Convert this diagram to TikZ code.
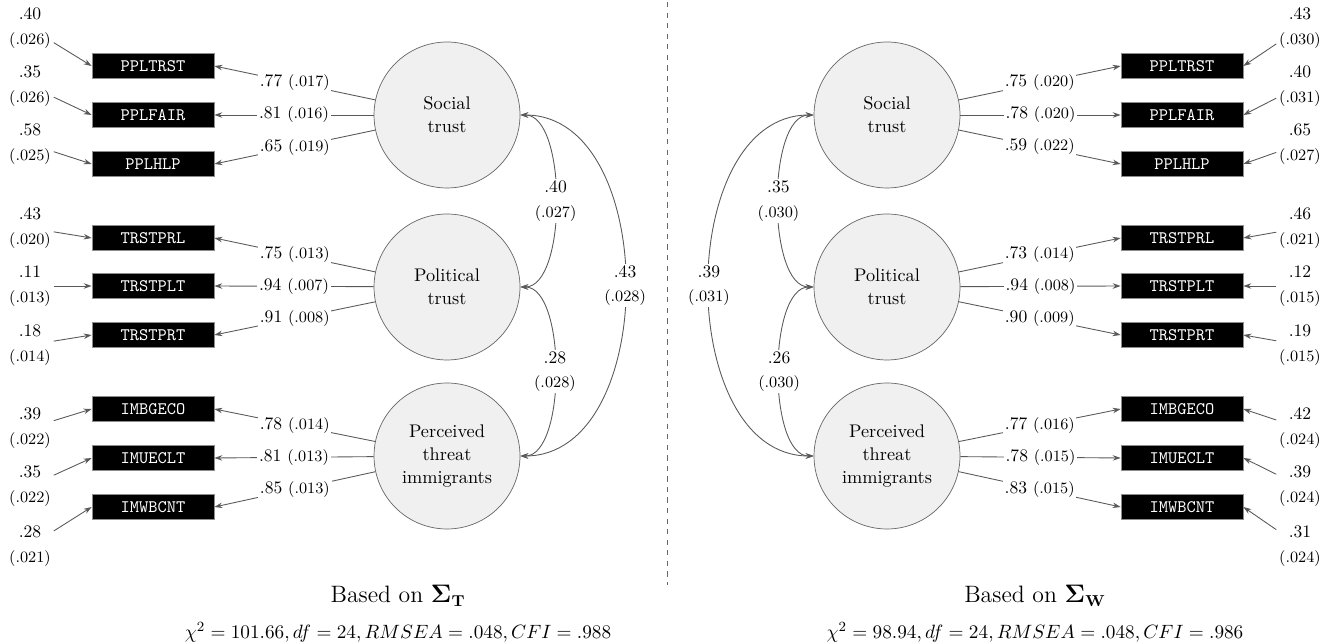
\documentclass[tikz,border=0pt]{standalone}
\usepackage{amsmath}
\usepackage{tikz}
\usetikzlibrary{arrows.meta}

\begin{document}
\begin{tikzpicture}[x=0.02cm, y=-0.02cm,
  latent/.style={circle, draw=black!60, fill=black!6, minimum size=2.92cm, align=center, font=\fontsize{10.4}{13}\selectfont},
  item/.style={rectangle, draw=black!45, fill=black, text=white, minimum width=2.44cm, minimum height=0.5cm, font=\ttfamily},
  errlab/.style={align=center, inner sep=1.5pt},
  err/.style={-{Stealth[length=1.6mm, width=1.1mm]}, draw=black!65, line width=0.5pt},
  load/.style={-{Stealth[length=1.6mm, width=1.1mm]}, draw=black!65, line width=0.5pt},
  loadlab/.style={fill=white, inner sep=1pt},
  cov/.style={{Stealth[length=1.6mm, width=1.1mm]}-{Stealth[length=1.6mm, width=1.1mm]}, draw=black!65, line width=0.5pt},
  covlab/.style={fill=white, inner sep=1pt, align=center},
  caption/.style={font=\fontsize{13.5}{16}\selectfont},
  fit/.style={font=\fontsize{11}{13}\selectfont},
]
  \useasboundingbox (0,0) rectangle (1327,644);

  % ---- left panel: Sigma_T ----
  \node[latent] (socT) at (447,115) {Social\\trust};
  \node[latent] (polT) at (447,287) {Political\\trust};
  \node[latent] (thrT) at (447,456) {Perceived\\threat\\immigrants};

  \node[item] (pplT1) at (153,66) {PPLTRST};
  \node[item] (pplT2) at (153,115) {PPLFAIR};
  \node[item] (pplT3) at (153,164) {PPLHLP};
  \node[item] (trsT1) at (153,238) {TRSTPRL};
  \node[item] (trsT2) at (153,286) {TRSTPLT};
  \node[item] (trsT3) at (153,335) {TRSTPRT};
  \node[item] (imT1) at (153,409) {IMBGECO};
  \node[item] (imT2) at (153,458) {IMUECLT};
  \node[item] (imT3) at (153,507) {IMWBCNT};

  \node[errlab] (epplT1) at (30,28) {.40\\[2pt]{\small(.026)}};
  \node[errlab] (epplT2) at (30,86) {.35\\[2pt]{\small(.026)}};
  \node[errlab] (epplT3) at (30,144) {.58\\[2pt]{\small(.025)}};
  \node[errlab] (etrsT1) at (30,228) {.43\\[2pt]{\small(.020)}};
  \node[errlab] (etrsT2) at (30,286) {.11\\[2pt]{\small(.013)}};
  \node[errlab] (etrsT3) at (30,345) {.18\\[2pt]{\small(.014)}};
  \node[errlab] (eimT1) at (30,428) {.39\\[2pt]{\small(.022)}};
  \node[errlab] (eimT2) at (30,486) {.35\\[2pt]{\small(.022)}};
  \node[errlab] (eimT3) at (30,546) {.28\\[2pt]{\small(.021)}};

  \draw[err] (epplT1) -- (pplT1.west);
  \draw[err] (epplT2) -- (pplT2.west);
  \draw[err] (epplT3) -- (pplT3.west);
  \draw[err] (etrsT1) -- (trsT1.west);
  \draw[err] (etrsT2) -- (trsT2.west);
  \draw[err] (etrsT3) -- (trsT3.west);
  \draw[err] (eimT1) -- (imT1.west);
  \draw[err] (eimT2) -- (imT2.west);
  \draw[err] (eimT3) -- (imT3.west);

  \draw[load] (socT) -- (pplT1.east) node[midway, loadlab] {.77 {\small(.017)}};
  \draw[load] (socT) -- (pplT2.east) node[midway, loadlab] {.81 {\small(.016)}};
  \draw[load] (socT) -- (pplT3.east) node[midway, loadlab] {.65 {\small(.019)}};
  \draw[load] (polT) -- (trsT1.east) node[midway, loadlab] {.75 {\small(.013)}};
  \draw[load] (polT) -- (trsT2.east) node[midway, loadlab] {.94 {\small(.007)}};
  \draw[load] (polT) -- (trsT3.east) node[midway, loadlab] {.91 {\small(.008)}};
  \draw[load] (thrT) -- (imT1.east) node[midway, loadlab] {.78 {\small(.014)}};
  \draw[load] (thrT) -- (imT2.east) node[midway, loadlab] {.81 {\small(.013)}};
  \draw[load] (thrT) -- (imT3.east) node[midway, loadlab] {.85 {\small(.013)}};

  \draw[cov] (socT.east) to[out=0, in=0, looseness=0.7] node[midway, covlab] {.40\\[2pt]{\small(.027)}} (polT.east);
  \draw[cov] (polT.east) to[out=0, in=0, looseness=0.7] node[midway, covlab] {.28\\[2pt]{\small(.028)}} (thrT.east);
  \draw[cov] (socT.east) to[out=0, in=0, looseness=1.05] node[midway, covlab] {.43\\[2pt]{\small(.028)}} (thrT.east);

  \node[caption] (capT) at (398,596) {Based on $\boldsymbol{\Sigma}_{\mathbf{T}}$};
  \node[fit] (fitT) at (398,632) {$\chi^2=101.66, df=24, RMSEA=.048, CFI=.988$};

  % separator
  \draw[dashed, black!60, line width=0.5pt] (667,2) -- (667,585);

  % ---- right panel: Sigma_W ----
  \node[latent] (socW) at (887,115) {Social\\trust};
  \node[latent] (polW) at (887,287) {Political\\trust};
  \node[latent] (thrW) at (887,456) {Perceived\\threat\\immigrants};

  \node[item] (pplW1) at (1182,66) {PPLTRST};
  \node[item] (pplW2) at (1182,115) {PPLFAIR};
  \node[item] (pplW3) at (1182,164) {PPLHLP};
  \node[item] (trsW1) at (1182,238) {TRSTPRL};
  \node[item] (trsW2) at (1182,286) {TRSTPLT};
  \node[item] (trsW3) at (1182,335) {TRSTPRT};
  \node[item] (imW1) at (1182,409) {IMBGECO};
  \node[item] (imW2) at (1182,458) {IMUECLT};
  \node[item] (imW3) at (1182,507) {IMWBCNT};

  \node[errlab] (epplW1) at (1300,28) {.43\\[2pt]{\small(.030)}};
  \node[errlab] (epplW2) at (1300,86) {.40\\[2pt]{\small(.031)}};
  \node[errlab] (epplW3) at (1300,144) {.65\\[2pt]{\small(.027)}};
  \node[errlab] (etrsW1) at (1300,228) {.46\\[2pt]{\small(.021)}};
  \node[errlab] (etrsW2) at (1300,286) {.12\\[2pt]{\small(.015)}};
  \node[errlab] (etrsW3) at (1300,345) {.19\\[2pt]{\small(.015)}};
  \node[errlab] (eimW1) at (1300,428) {.42\\[2pt]{\small(.024)}};
  \node[errlab] (eimW2) at (1300,486) {.39\\[2pt]{\small(.024)}};
  \node[errlab] (eimW3) at (1300,546) {.31\\[2pt]{\small(.024)}};

  \draw[err] (epplW1) -- (pplW1.east);
  \draw[err] (epplW2) -- (pplW2.east);
  \draw[err] (epplW3) -- (pplW3.east);
  \draw[err] (etrsW1) -- (trsW1.east);
  \draw[err] (etrsW2) -- (trsW2.east);
  \draw[err] (etrsW3) -- (trsW3.east);
  \draw[err] (eimW1) -- (imW1.east);
  \draw[err] (eimW2) -- (imW2.east);
  \draw[err] (eimW3) -- (imW3.east);

  \draw[load] (socW) -- (pplW1.west) node[midway, loadlab] {.75 {\small(.020)}};
  \draw[load] (socW) -- (pplW2.west) node[midway, loadlab] {.78 {\small(.020)}};
  \draw[load] (socW) -- (pplW3.west) node[midway, loadlab] {.59 {\small(.022)}};
  \draw[load] (polW) -- (trsW1.west) node[midway, loadlab] {.73 {\small(.014)}};
  \draw[load] (polW) -- (trsW2.west) node[midway, loadlab] {.94 {\small(.008)}};
  \draw[load] (polW) -- (trsW3.west) node[midway, loadlab] {.90 {\small(.009)}};
  \draw[load] (thrW) -- (imW1.west) node[midway, loadlab] {.77 {\small(.016)}};
  \draw[load] (thrW) -- (imW2.west) node[midway, loadlab] {.78 {\small(.015)}};
  \draw[load] (thrW) -- (imW3.west) node[midway, loadlab] {.83 {\small(.015)}};

  \draw[cov] (socW.west) to[out=180, in=180, looseness=0.7] node[midway, covlab] {.35\\[2pt]{\small(.030)}} (polW.west);
  \draw[cov] (polW.west) to[out=180, in=180, looseness=0.7] node[midway, covlab] {.26\\[2pt]{\small(.030)}} (thrW.west);
  \draw[cov] (socW.west) to[out=180, in=180, looseness=1.05] node[midway, covlab] {.39\\[2pt]{\small(.031)}} (thrW.west);

  \node[caption] (capW) at (1035,596) {Based on $\boldsymbol{\Sigma}_{\mathbf{W}}$};
  \node[fit] (fitW) at (1035,632) {$\chi^2=98.94, df=24, RMSEA=.048, CFI=.986$};
\end{tikzpicture}
\end{document}
